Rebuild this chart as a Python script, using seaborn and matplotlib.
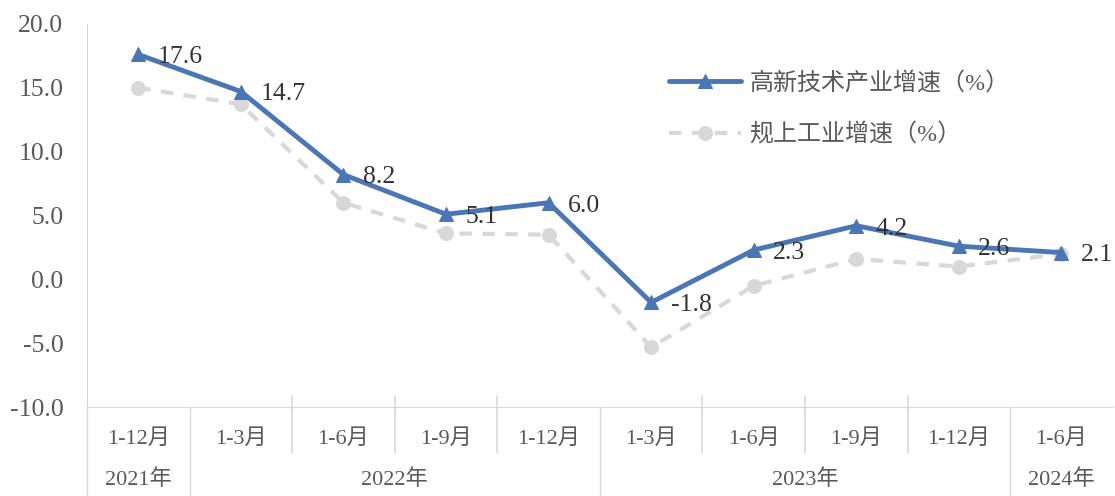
import numpy as np
import pandas as pd
import matplotlib
matplotlib.use("Agg")
import matplotlib.pyplot as plt
import matplotlib.transforms as mtransforms
import seaborn as sns

# 数据
periods = ["1-12月", "1-3月", "1-6月", "1-9月", "1-12月",
           "1-3月", "1-6月", "1-9月", "1-12月", "1-6月"]
years = ["2021年", "2022年", "2022年", "2022年", "2022年",
         "2023年", "2023年", "2023年", "2023年", "2024年"]
hitech = [17.6, 14.7, 8.2, 5.1, 6.0, -1.8, 2.3, 4.2, 2.6, 2.1]
industry = [15.0, 13.7, 6.0, 3.6, 3.5, -5.3, -0.5, 1.6, 1.0, 2.0]
yticks = [-10, -5, 0, 5, 10, 15, 20]

BLUE = "#4A76B5"
GRAY = "#D8D8D8"
TEXT = "#595959"
LINE = "#D9D9D9"

sns.set_style("white")
plt.rcParams["font.family"] = ["Liberation Serif", "Noto Sans CJK SC"]
plt.rcParams["font.size"] = 16

df = pd.DataFrame({"pos": np.arange(len(periods)), "hitech": hitech, "industry": industry})

fig = plt.figure(figsize=(11.15, 4.96), dpi=100)
ax = fig.add_axes([0.078, 0.179, 0.92, 0.773])

sns.lineplot(data=df, x="pos", y="industry", ax=ax, color=GRAY, lw=3,
             marker="o", markersize=10, markeredgecolor=GRAY,
             label="规上工业增速（%）")
ax.lines[-1].set_dashes((3, 2.5))
sns.lineplot(data=df, x="pos", y="hitech", ax=ax, color=BLUE, lw=3.5,
             marker="^", markersize=10, markeredgecolor=BLUE,
             label="高新技术产业增速（%）")

for x, v in zip(df["pos"], df["hitech"]):
    ax.annotate(f"{v:.1f}", (x, v), xytext=(14, -2), textcoords="offset points",
                ha="left", va="center", color="#333333", fontsize=18.5)

ax.set_xlim(-0.5, len(periods) - 0.5)
ax.set_ylim(-10, 20)
ax.set_yticks(yticks)
ax.set_yticklabels([f"{t:.1f}" for t in yticks], color=TEXT, fontsize=18.5)
ax.set_xticks([])
ax.set_xlabel("")
ax.set_ylabel("")
ax.tick_params(axis="y", direction="in", length=6, color=LINE, pad=17)

for s in ["top", "right"]:
    ax.spines[s].set_visible(False)
ax.spines["left"].set_color(LINE)
ax.spines["bottom"].set_color(LINE)

# 分类坐标轴（两级）
trans = mtransforms.blended_transform_factory(ax.transData, ax.transAxes)
n = len(periods)
for i in range(n + 1):
    b = i - 0.5
    new_year = i == 0 or i == n or years[i] != years[i - 1]
    if new_year:
        if i < n:
            ax.plot([b, b], [0, -0.235], transform=trans, color=LINE, lw=1, clip_on=False)
    else:
        ax.plot([b, b], [0, -0.12], transform=trans, color=LINE, lw=1.2, clip_on=False)
        ax.plot([b, b], [0, 0.028], transform=trans, color=LINE, lw=1.2, clip_on=False)

for i, p in enumerate(periods):
    ax.text(i, -0.082, p, transform=trans, ha="center", va="center", color=TEXT)

groups = []
for i, y in enumerate(years):
    if groups and groups[-1][0] == y:
        groups[-1][2] = i
    else:
        groups.append([y, i, i])
for y, a, b in groups:
    ax.text((a + b) / 2, -0.19, y, transform=trans, ha="center", va="center", color=TEXT)

handles, labels = ax.get_legend_handles_labels()
ax.legend(handles[::-1], labels[::-1], loc="upper left", bbox_to_anchor=(0.589, 0.88),
          bbox_transform=fig.transFigure, frameon=False, handlelength=3.0,
          handletextpad=0.35, labelspacing=1.2, borderpad=0, labelcolor=TEXT,
          fontsize=17.3)

fig.savefig("out.png", dpi=100)
